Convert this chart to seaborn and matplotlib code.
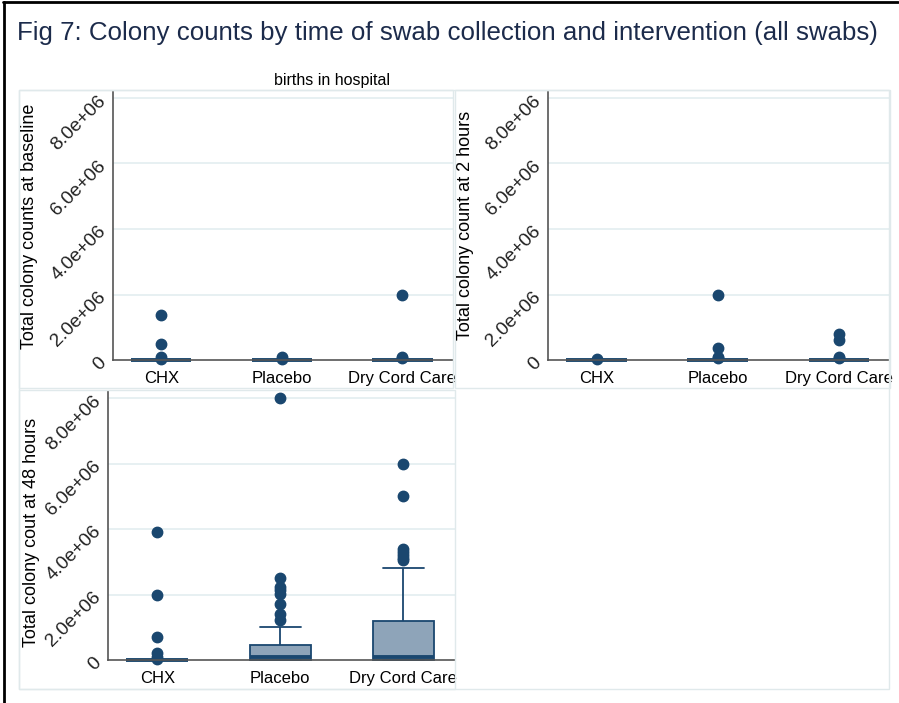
import pandas as pd
import matplotlib
matplotlib.use("Agg")
import matplotlib.pyplot as plt
import seaborn as sns
from matplotlib.patches import Rectangle
from matplotlib.lines import Line2D

# -------------------------------------------------------------
# data (colony counts; most swabs are zero)
arms = ["CHX", "Placebo", "Dry Cord Care"]
ytick_vals = [0, 2e6, 4e6, 6e6, 8e6]
ytick_labels = ["0", "2.0e+06", "4.0e+06", "6.0e+06", "8.0e+06"]

base_chx = [0] * 20 + [0.03e6, 0.1e6, 0.48e6, 1.37e6]
base_placebo = [0] * 20 + [0.03e6, 0.08e6]
base_dry = [0] * 20 + [0.05e6, 0.1e6, 1.98e6]

h2_chx = [0] * 20 + [0.03e6]
h2_placebo = [0] * 20 + [0.05e6, 0.1e6, 0.38e6, 2.0e6]
h2_dry = [0] * 20 + [0.05e6, 0.1e6, 0.6e6, 0.8e6]

h48_chx = [0] * 30 + [0.03e6, 0.1e6, 0.2e6, 0.69e6, 2.0e6, 3.9e6]
h48_placebo = [0] * 12 + [
    0.01e6, 0.02e6, 0.03e6, 0.05e6, 0.05e6, 0.06e6, 0.07e6, 0.08e6, 0.08e6,
    0.1e6, 0.12e6, 0.15e6, 0.2e6, 0.25e6, 0.3e6, 0.35e6, 0.4e6,
    0.45e6, 0.45e6, 1.0e6,
    1.22e6, 1.39e6, 1.7e6, 2.02e6, 2.14e6, 2.22e6, 2.49e6, 8.0e6,
]
h48_dry = [0] * 12 + [
    0.01e6, 0.02e6, 0.03e6, 0.05e6, 0.05e6, 0.06e6, 0.07e6, 0.08e6, 0.08e6,
    0.15e6, 0.2e6, 0.3e6, 0.4e6, 0.5e6, 0.7e6, 0.9e6, 1.1e6,
    1.2e6, 1.2e6, 2.0e6, 2.8e6,
    3.05e6, 3.1e6, 3.2e6, 3.3e6, 3.4e6, 5.0e6, 6.0e6,
]

panels = [
    ("Total colony counts at baseline", [base_chx, base_placebo, base_dry]),
    ("Total colony count at 2 hours", [h2_chx, h2_placebo, h2_dry]),
    ("Total colony cout at 48 hours", [h48_chx, h48_placebo, h48_dry]),
]

# -------------------------------------------------------------
navy = "#1a476f"
box_fill = "#8ea4b9"
axis_col = "#555555"
grid_col = "#e3eef0"
frame_col = "#e0e9eb"

sns.set_style("white")
plt.rcParams["font.family"] = ["Liberation Sans", "DejaVu Sans"]
plt.rcParams["text.color"] = "black"
plt.rcParams["xtick.color"] = "black"
plt.rcParams["ytick.color"] = "black"

W, H = 899, 703
fig = plt.figure(figsize=(W / 100, H / 100), dpi=100)


def fx(px):
    return px / W


def fy(py):
    return 1 - py / H


# axes rectangles in pixels: left, right, top, bottom(zero line)
rects = [(113, 453, 91, 360), (548, 890, 91, 360), (108, 455, 391, 660)]
ylab_pos = [(30, 226), (465, 225), (32, 532)]

# light frames of the sub-graphs
for (x0, y0, x1, y1) in [(19, 90, 453, 388), (455, 90, 890, 388), (19, 390, 455, 689), (19, 90, 889, 689)]:
    fig.patches.append(Rectangle((fx(x0), fy(y1)), fx(x1 - x0), (y1 - y0) / H,
                                 transform=fig.transFigure, fill=False,
                                 edgecolor=frame_col, linewidth=1, zorder=0))

for (label, groups), (l, r, t, b), (lx, ly) in zip(panels, rects, ylab_pos):
    ax = fig.add_axes([fx(l), fy(b), fx(r - l), (b - t) / H])
    df = pd.DataFrame({
        "arm": [a for a, g in zip(arms, groups) for _ in g],
        "count": [v for g in groups for v in g],
    })
    sns.boxplot(
        data=df, x="arm", y="count", order=arms, ax=ax,
        width=0.5, color=box_fill, linecolor=navy, linewidth=1.3,
        saturation=1, capwidths=0.33,
        flierprops=dict(marker="o", markerfacecolor=navy, markeredgecolor=navy,
                        markersize=7.5),
        medianprops=dict(color=navy, linewidth=2.8),
    )
    for art in ax.lines + ax.patches:
        art.set_clip_on(False)

    ax.set_xlim(-0.4, 2.42)
    ax.set_ylim(0, 8e6 * (b - t) / (b - t - 7))
    ax.set_yticks(ytick_vals)
    ax.set_yticklabels(ytick_labels, rotation=45, ha="right", va="center",
                       rotation_mode="anchor", fontsize=13.8, color="#222222")
    for yv in ytick_vals[1:]:
        ax.axhline(yv, color=grid_col, linewidth=1.2, zorder=0)
    ax.tick_params(axis="y", length=4, width=1, color=axis_col, pad=3)
    ax.tick_params(axis="x", length=0, pad=8, labelsize=12)
    ax.set_xlabel("")
    ax.set_ylabel("")
    sns.despine(ax=ax)
    for s in ["left", "bottom"]:
        ax.spines[s].set_color(axis_col)
        ax.spines[s].set_linewidth(1.2)
    ax.set_facecolor("none")

    fig.text(fx(lx), fy(ly), label, rotation=90, ha="center", va="center",
             fontsize=13)

fig.text(fx(447), fy(33), "Fig 7: Colony counts by time of swab collection and intervention (all swabs)",
         ha="center", va="center", fontsize=18.6, color="#1c2b4b")
fig.text(fx(332), fy(80), "births in hospital", ha="center", va="center", fontsize=11.5)

# black border of the screenshot (top and left)
fig.add_artist(Line2D([fx(3), fx(898)], [fy(2), fy(2)], color="black", linewidth=2,
                      transform=fig.transFigure))
fig.add_artist(Line2D([fx(4), fx(4)], [fy(2), fy(703)], color="black", linewidth=2,
                      transform=fig.transFigure))

fig.savefig("out.png", dpi=100)
